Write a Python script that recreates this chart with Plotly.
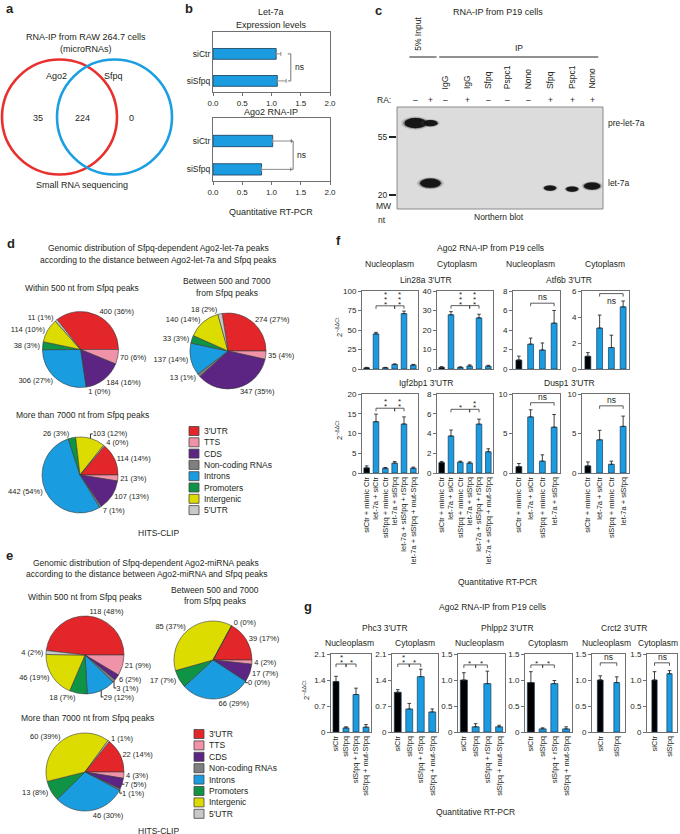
import math
import plotly.graph_objects as go

W, H = 680, 834
FONT = "Liberation Sans, Arial, Helvetica, sans-serif"
TXT = "#231f20"
BLUE = "#1b9ce0"
EDGE = "#173a57"
AXC = "#707070"

def px(x): return x / W
def py(y): return 1 - y / H

# ---------------- DATA ----------------
# a  Venn (RNA-IP, small RNA seq)
venn_sets = ["Ago2", "Sfpq"]
venn_counts = [35, 224, 0]          # Ago2 only, shared, Sfpq only

# b  Let-7a
b_groups = ["siCtr", "siSfpq"]
b_expr = [1.08, 1.10]
b_expr_err = [0.08, 0.15]
b_ip = [1.02, 0.83]
b_ip_err = [0.32, 0.50]
b_ticks = [0, 0.5, 1.0, 1.5, 2.0]

# c  Northern blot
blot_lanes = ["", "", "IgG", "IgG", "Sfpq", "Pspc1", "Nono", "Sfpq", "Pspc1", "Nono"]
blot_ra = ["–", "+", "–", "+", "–", "–", "–", "+", "+", "+"]
lane_x = [0.9, 1.62, 2.35, 3.4, 4.42, 5.35, 6.4, 7.43, 8.5, 9.47]
band_lane = [0, 1, 1, 7, 8, 9]
band_nt = [70, 70, 24.6, 22.6, 22.2, 23.4]
band_signal = [1.0, 0.45, 0.9, 0.3, 0.3, 0.6]
mw_ticks = [20, 55]

# d / e  genomic distribution
regions = ["3′UTR", "TTS", "CDS", "Non-coding RNAs", "Introns", "Promoters", "Intergenic", "5′UTR"]
region_colors = ["#e3262a", "#f093a8", "#5c2483", "#7f7f7f", "#1a9de0", "#0f9446", "#dcdc00", "#c8c8c8"]
d_within = [400, 70, 184, 1, 306, 38, 114, 11]
d_within_pct = [36, 6, 16, 0, 27, 3, 10, 1]
d_between = [274, 35, 347, 13, 137, 33, 140, 18]
d_between_pct = [27, 4, 35, 1, 14, 3, 14, 2]
d_beyond = [114, 21, 107, 7, 442, 26, 103, 4]
d_beyond_pct = [14, 3, 13, 1, 54, 3, 12, 0]
e_within = [118, 21, 6, 3, 29, 18, 46, 4]
e_within_pct = [48, 9, 2, 1, 12, 7, 19, 2]
e_between = [39, 4, 17, 0, 66, 17, 85, 0]
e_between_pct = [17, 2, 7, 0, 29, 7, 37, 0]
e_beyond = [22, 4, 7, 1, 46, 13, 60, 1]
e_beyond_pct = [14, 3, 5, 1, 30, 8, 39, 1]

# f  Ago2 RNA-IP, let-7a targets
f_groups6 = ["siCtr + mimic Ctr", "let-7a + siCtr", "siSfpq + mimic Ctr", "let-7a + siSfpq",
             "let-7a + siSfpq + rSfpq", "let-7a + siSfpq + mut-Sfpq"]
f_groups4 = f_groups6[:4]
f_lin28a_nuc = [1.5, 45.0, 1.6, 5.8, 71.0, 5.0]
f_lin28a_nuc_err = [0.6, 2.0, 0.5, 0.7, 3.2, 0.9]
f_lin28a_nuc_ticks = [0, 25, 50, 75, 100]
f_lin28a_nuc_sig = [(1, 3, 81, 3), (3, 4, 81, 3)]
f_lin28a_cyt = [0.8, 27.8, 0.8, 1.5, 26.2, 1.4]
f_lin28a_cyt_err = [0.4, 1.6, 0.3, 0.6, 1.9, 0.5]
f_lin28a_cyt_ticks = [0, 10, 20, 30, 40]
f_lin28a_cyt_sig = [(1, 3, 32.5, 3), (3, 4, 32.5, 3)]
f_atf6b_nuc = [0.92, 2.55, 1.95, 4.7]
f_atf6b_nuc_err = [0.4, 0.62, 0.72, 1.3]
f_atf6b_nuc_ticks = [0, 2, 4, 6, 8]
f_atf6b_nuc_sig = [(1, 3, 6.75, "ns")]
f_atf6b_cyt = [0.98, 3.15, 1.65, 4.78]
f_atf6b_cyt_err = [0.28, 1.0, 0.95, 0.45]
f_atf6b_cyt_ticks = [0, 2, 4, 6]
f_atf6b_cyt_sig = [(1, 3, 5.8, "ns")]
f_igf_nuc = [1.3, 13.0, 1.2, 2.5, 12.4, 1.2]
f_igf_nuc_err = [0.5, 1.9, 0.2, 0.4, 1.8, 0.3]
f_igf_nuc_ticks = [0, 5, 10, 15, 20]
f_igf_nuc_sig = [(1, 3, 16.4, 2), (3, 4, 16.4, 2)]
f_igf_cyt = [1.05, 3.75, 1.1, 1.0, 4.95, 2.15]
f_igf_cyt_err = [0.12, 0.6, 0.1, 0.12, 0.5, 0.3]
f_igf_cyt_ticks = [0, 2, 4, 6, 8]
f_igf_cyt_sig = [(1, 3, 6.45, 1), (3, 4, 6.45, 2)]
f_dusp_nuc = [0.8, 7.1, 1.5, 5.8]
f_dusp_nuc_err = [0.4, 0.9, 0.8, 1.6]
f_dusp_nuc_ticks = [0, 5, 10]
f_dusp_nuc_sig = [(1, 3, 8.9, "ns")]
f_dusp_cyt = [0.9, 4.2, 1.1, 5.9]
f_dusp_cyt_err = [0.5, 1.2, 0.4, 1.3]
f_dusp_cyt_ticks = [0, 5, 10]
f_dusp_cyt_sig = [(1, 3, 8.5, "ns")]

# g  Ago2 RNA-IP, Sfpq-dependent targets
g_groups4 = ["siCtr", "siSfpq", "siSfpq + rSfpq", "siSfpq + mut-Sfpq"]
g_groups2 = ["siCtr", "siSfpq"]
g_phc3_nuc = [1.36, 0.11, 1.01, 0.13]
g_phc3_nuc_err = [0.14, 0.03, 0.17, 0.07]
g_phc3_cyt = [1.07, 0.62, 1.49, 0.54]
g_phc3_cyt_err = [0.07, 0.15, 0.2, 0.08]
g_phc3_ticks = [0, 0.7, 1.4, 2.1]
g_phc3_sig = [(0, 1, 1.83, 2), (1, 2, 1.83, 1)]
g_phlpp2_nuc = [1.0, 0.1, 0.93, 0.1]
g_phlpp2_nuc_err = [0.14, 0.06, 0.24, 0.03]
g_phlpp2_cyt = [0.95, 0.06, 0.93, 0.06]
g_phlpp2_cyt_err = [0.21, 0.02, 0.06, 0.04]
g_phlpp2_ticks = [0, 0.5, 1.0, 1.5]
g_phlpp2_sig = [(0, 1, 1.29, 1), (1, 2, 1.29, 1)]
g_crct2_nuc = [1.0, 0.95]
g_crct2_nuc_err = [0.08, 0.11]
g_crct2_cyt = [1.0, 1.12]
g_crct2_cyt_err = [0.16, 0.06]
g_crct2_ticks = [0, 0.5, 1.0, 1.5]
g_crct2_sig = [(0, 1, 1.33, "ns")]

# ---------------- BUILD ----------------
traces, ann, shapes = [], [], []
layout = dict(width=W, height=H, autosize=False,
              margin=dict(l=0, r=0, t=0, b=0, pad=0, autoexpand=False),
              paper_bgcolor="white", plot_bgcolor="white", showlegend=False,
              font=dict(family=FONT, size=8, color=TXT))

BASE = dict(showline=True, linecolor=AXC, linewidth=1, mirror=True, ticks="outside",
            ticklen=3, tickcolor=AXC, tickwidth=1, showgrid=False, zeroline=False,
            automargin=False, tickfont=dict(size=8, family=FONT, color=TXT), fixedrange=True)


def add_axes(i, xd, yd, xkw, ykw):
    s = "" if i == 1 else str(i)
    layout["xaxis" + s] = dict(BASE, domain=[px(xd[0]), px(xd[1])], anchor="y" + s, **xkw)
    layout["yaxis" + s] = dict(BASE, domain=[py(yd[1]), py(yd[0])], anchor="x" + s, **ykw)
    return "x" + s, "y" + s


def note(**kw):
    d = dict(showarrow=False, xanchor="center", yanchor="middle",
             font=dict(size=8.5, family=FONT, color=TXT))
    d.update(kw)
    ann.append(d)


def ptext(x, y, s, size=8.5, **kw):
    note(x=px(x), y=py(y), xref="paper", yref="paper", text=s,
         font=dict(size=size, family=FONT, color=TXT), **kw)


def fmt(v):
    if v == 0:
        return "0"
    return str(int(v)) if float(v).is_integer() and v >= 2 else f"{v:.1f}"


# panel letters
for L, x, y in [("a", 4, 8), ("b", 183, 8), ("c", 373, 10), ("d", 5, 244),
                ("e", 4, 555), ("f", 334, 241), ("g", 302, 606)]:
    ptext(x, y, f"<b>{L}</b>", size=13, xanchor="left")

# ---- a : Venn
ptext(86, 37, "RNA-IP from RAW 264.7 cells", 9)
ptext(86, 49, "(microRNAs)", 9)
R = 57.5
for cx, col in [(59.5, "#e8302e"), (114.5, "#1aa0e2")]:
    shapes.append(dict(type="circle", xref="paper", yref="paper", x0=px(cx - R), x1=px(cx + R),
                       y0=py(117 + R), y1=py(117 - R), line=dict(color=col, width=2.6)))
ptext(57, 76, venn_sets[0], 9)
ptext(113, 76, venn_sets[1], 9)
for x, c in zip([38, 82, 131], venn_counts):
    ptext(x, 118, str(c), 9)
ptext(82, 185, "Small RNA sequencing", 9)

# ---- b
for i, (vals, errs, yd, brx) in enumerate([(b_expr, b_expr_err, (32, 92), 1.33),
                                            (b_ip, b_ip_err, (118, 181), 1.37)]):
    xr, yr = add_axes(1 + i, (213, 330), yd,
                      dict(range=[0, 2], tickvals=b_ticks, ticktext=[f"{t:.1f}" for t in b_ticks]),
                      dict(range=[1.41, -0.81], tickvals=[0, 1], ticktext=b_groups, ticks="",
                           tickfont=dict(size=8.5, family=FONT, color=TXT)))
    traces.append(go.Bar(x=vals, y=[0, 1], orientation="h", width=0.4, xaxis=xr, yaxis=yr,
                         marker=dict(color=BLUE, line=dict(color=EDGE, width=0.8)),
                         error_x=dict(type="data", array=errs, arrayminus=[0] * len(errs),
                                      symmetric=False, color="#8c8c8c", thickness=1, width=2)))
    d = 3 * 2 / 117
    traces.append(go.Scatter(x=[brx - d, brx, brx, brx - d], y=[0, 0, 1, 1], mode="lines",
                             line=dict(color="#555", width=0.8), xaxis=xr, yaxis=yr, hoverinfo="skip"))
    note(x=brx, y=0.5, xref=xr, yref=yr, text="ns", xanchor="left", xshift=2)
ptext(271, 12, "Let-7a", 9)
ptext(271, 25, "Expression levels", 9)
ptext(271, 112, "Ago2 RNA-IP", 9)
ptext(271, 212, "Quantitative RT-PCR", 9)

# ---- c : Northern blot
xr, yr = add_axes(3, (397, 603), (107, 209),
                  dict(range=[0, 10], visible=False, showline=False),
                  dict(type="log", range=[math.log10(15.7), math.log10(92.7)], tickvals=mw_ticks,
                       ticktext=[str(t) for t in mw_ticks], showline=False, mirror=False,
                       ticklen=7, tickcolor="#222", tickwidth=1.2,
                       tickfont=dict(size=8.5, family=FONT, color=TXT)))
shapes.append(dict(type="rect", xref="x3 domain", yref="y3 domain", x0=0, x1=1, y0=0, y1=1,
                   fillcolor="#dcdcdc", line=dict(color="#8a8a8a", width=1), layer="below"))
for ln, nt, s in zip(band_lane, band_nt, band_signal):
    wpx, hpx = 8 + 14 * s, 3 + 7 * s
    for scale, op, col in [(1.3, 0.22, "#555"), (1.12, 0.45, "#333"), (1.0, 0.95, "#111")]:
        w = wpx * scale / 20.6
        hd = hpx * scale / 132.0
        shapes.append(dict(type="circle", xref="x3", yref="y3", x0=lane_x[ln] - w / 2,
                           x1=lane_x[ln] + w / 2, y0=nt * 10 ** (-hd / 2), y1=nt * 10 ** (hd / 2),
                           fillcolor=col, opacity=op, line=dict(width=0)))
ptext(498, 12, "RNA-IP from P19 cells", 9)
for xv, lab in zip(lane_x, blot_lanes):
    if lab:
        note(x=xv, y=py(91), xref="x3", yref="paper", text=lab, textangle=-90, yanchor="bottom")
for xv, s in zip(lane_x, blot_ra):
    note(x=xv, y=py(100), xref="x3", yref="paper", text=s)
note(x=(lane_x[0] + lane_x[1]) / 2 - 0.25, y=py(53), xref="x3", yref="paper", text="5% Input",
     textangle=-90, yanchor="bottom")
note(x=(lane_x[2] + lane_x[9]) / 2, y=py(48), xref="x3", yref="paper", text="IP")
for a, b in [(0, 1), (2, 9)]:
    shapes.append(dict(type="line", xref="x3", yref="paper", x0=lane_x[a] - 0.3, x1=lane_x[b] + 0.3,
                       y0=py(57), y1=py(57), line=dict(color="#222", width=1)))
ptext(384, 100, "RA:", 8.5)
ptext(383, 206, "MW", 8.5)
ptext(382, 220, "nt", 8.5)
note(x=px(606), y=math.log10(band_nt[0]), xref="paper", yref="y3", text="pre-let-7a", xanchor="left")
note(x=px(606), y=math.log10(band_nt[2]), xref="paper", yref="y3", text="let-7a", xanchor="left")
ptext(499, 217, "Northern blot", 8.5)


# ---- d / e pies
def add_pie(vals, pcts, cx, cy, r):
    rot = 90 - 360 * vals[0] / sum(vals)
    traces.append(go.Pie(values=vals, labels=regions,
                         text=[f"{v} ({p}%)" for v, p in zip(vals, pcts)], textinfo="text",
                         textposition="outside", sort=False, direction="clockwise", rotation=rot,
                         marker=dict(colors=region_colors, line=dict(color="#3a3a3a", width=0.6)),
                         domain=dict(x=[px(cx - r), px(cx + r)], y=[py(cy + r), py(cy - r)]),
                         textfont=dict(size=7.5, family=FONT, color=TXT), showlegend=False,
                         automargin=False, hoverinfo="skip"))


def add_legend(x0, y0, step):
    for k, (lab, col) in enumerate(zip(regions, region_colors)):
        yc = y0 + k * step
        shapes.append(dict(type="rect", xref="paper", yref="paper", x0=px(x0), x1=px(x0 + 10),
                           y0=py(yc + 4.5), y1=py(yc - 4.5), fillcolor=col,
                           line=dict(color="#444", width=0.8)))
        ptext(x0 + 13, yc, lab, 8.5, xanchor="left")


ptext(158, 248, "Genomic distribution of Sfpq-dependent Ago2-let-7a peaks", 8.5)
ptext(158, 260, "according to the distance between Ago2-let-7a and Sfpq peaks", 8.5)
ptext(82, 288, "Within 500 nt from Sfpq peaks", 8.5)
ptext(227, 281, "Between 500 and 7000", 8.5)
ptext(227, 293, "from Sfpq peaks", 8.5)
ptext(82, 415, "More than 7000 nt from Sfpq peaks", 8.5)
add_pie(d_within, d_within_pct, 80.5, 349.5, 38)
add_pie(d_between, d_between_pct, 228, 351, 38)
add_pie(d_beyond, d_beyond_pct, 80, 475, 38)
add_legend(189, 431, 11.3)
ptext(158, 533, "HITS-CLIP", 8.5)

ptext(146, 563, "Genomic distribution of Sfpq-dependent Ago2-miRNA peaks", 8.5)
ptext(146, 574, "according to the distance between Ago2-miRNA and Sfpq peaks", 8.5)
ptext(85, 597, "Within 500 nt from Sfpq peaks", 8.5)
ptext(215, 590, "Between 500 and 7000", 8.5)
ptext(215, 601, "from Sfpq peaks", 8.5)
ptext(87, 718, "More than 7000 nt from Sfpq peaks", 8.5)
add_pie(e_within, e_within_pct, 85, 655, 39)
add_pie(e_between, e_between_pct, 213, 660, 39)
add_pie(e_beyond, e_beyond_pct, 85, 772, 39)
add_legend(194, 734, 11.4)
ptext(158, 831, "HITS-CLIP", 8.5)


# ---- f / g bar charts
def bar_chart(i, vals, errs, groups, ticks, sig, xd, yd, show_x, width):
    ymax = ticks[-1]
    n = len(vals)
    xr, yr = add_axes(i, xd, yd,
                      dict(range=[-0.5, n - 0.5], tickvals=list(range(n)), ticktext=groups, ticks="",
                           showticklabels=show_x, tickangle=-90,
                           tickfont=dict(size=7.5, family=FONT, color=TXT)),
                      dict(range=[0, ymax], tickvals=ticks, ticktext=[fmt(t) for t in ticks]))
    colors = ["#000000"] + [BLUE] * (n - 1)
    traces.append(go.Bar(x=list(range(n)), y=vals, width=width, xaxis=xr, yaxis=yr,
                         marker=dict(color=colors, line=dict(color=EDGE, width=0.7)),
                         error_y=dict(type="data", array=errs, arrayminus=[0] * n, symmetric=False,
                                      color="#2a2a2a", thickness=0.9, width=1.8)))
    hpx = yd[1] - yd[0]
    d = 3 * ymax / hpx
    for a, b, h, lab in sig:
        traces.append(go.Scatter(x=[a, a, b, b], y=[h - d, h, h, h - d], mode="lines",
                                 line=dict(color="#333", width=0.8), xaxis=xr, yaxis=yr,
                                 hoverinfo="skip"))
        xm = (a + b) / 2
        if isinstance(lab, int):
            for k in range(lab):
                note(x=xm, y=h, xref=xr, yref=yr, text="*", yshift=1.5 + 4.8 * k,
                     font=dict(size=8, family=FONT, color=TXT))
        else:
            room = (ymax - h) / ymax * hpx
            if room > 8:
                note(x=xm, y=h, xref=xr, yref=yr, text=lab, yanchor="bottom", yshift=-1)
            else:
                note(x=xm, y=h, xref=xr, yref=yr, text=lab, yanchor="top")


fx = [(362, 418), (437, 493), (513, 560), (582, 629)]
f_rows = [
    [(f_lin28a_nuc, f_lin28a_nuc_err, f_groups6, f_lin28a_nuc_ticks, f_lin28a_nuc_sig),
     (f_lin28a_cyt, f_lin28a_cyt_err, f_groups6, f_lin28a_cyt_ticks, f_lin28a_cyt_sig),
     (f_atf6b_nuc, f_atf6b_nuc_err, f_groups4, f_atf6b_nuc_ticks, f_atf6b_nuc_sig),
     (f_atf6b_cyt, f_atf6b_cyt_err, f_groups4, f_atf6b_cyt_ticks, f_atf6b_cyt_sig)],
    [(f_igf_nuc, f_igf_nuc_err, f_groups6, f_igf_nuc_ticks, f_igf_nuc_sig),
     (f_igf_cyt, f_igf_cyt_err, f_groups6, f_igf_cyt_ticks, f_igf_cyt_sig),
     (f_dusp_nuc, f_dusp_nuc_err, f_groups4, f_dusp_nuc_ticks, f_dusp_nuc_sig),
     (f_dusp_cyt, f_dusp_cyt_err, f_groups4, f_dusp_cyt_ticks, f_dusp_cyt_sig)],
]
idx = 4
for r, (row, yd) in enumerate(zip(f_rows, [(291, 369), (394, 473)])):
    for c, (vals, errs, grp, ticks, sig) in enumerate(row):
        bar_chart(idx, vals, errs, grp, ticks, sig, fx[c], yd, r == 1, 0.6 if len(vals) == 6 else 0.5)
        idx += 1

ptext(490, 248, "Ago2 RNA-IP from P19 cells", 8.5)
for x, s in zip([389, 457, 530, 605], ["Nucleoplasm", "Cytoplasm", "Nucleoplasm", "Cytoplasm"]):
    ptext(x, 264, s, 8.5)
ptext(426, 280, "Lin28a 3′UTR", 8.5)
ptext(569, 280, "Atf6b 3′UTR", 8.5)
ptext(426, 383, "Igf2bp1 3′UTR", 8.5)
ptext(569, 383, "Dusp1 3′UTR", 8.5)
ytitle = "2<sup>−ΔΔCt</sup>"
ptext(339, 327, ytitle, 7.5, textangle=-90)
ptext(339, 430, ytitle, 7.5, textangle=-90)
ptext(498, 582, "Quantitative RT-PCR", 8.5)

g_specs = [
    (g_phc3_nuc, g_phc3_nuc_err, g_groups4, g_phc3_ticks, g_phc3_sig, (331, 371)),
    (g_phc3_cyt, g_phc3_cyt_err, g_groups4, g_phc3_ticks, g_phc3_sig, (392, 438)),
    (g_phlpp2_nuc, g_phlpp2_nuc_err, g_groups4, g_phlpp2_ticks, g_phlpp2_sig, (458, 505)),
    (g_phlpp2_cyt, g_phlpp2_cyt_err, g_groups4, g_phlpp2_ticks, g_phlpp2_sig, (525, 572)),
    (g_crct2_nuc, g_crct2_nuc_err, g_groups2, g_crct2_ticks, g_crct2_sig, (592, 625)),
    (g_crct2_cyt, g_crct2_cyt_err, g_groups2, g_crct2_ticks, g_crct2_sig, (647, 677)),
]
for vals, errs, grp, ticks, sig, xd in g_specs:
    bar_chart(idx, vals, errs, grp, ticks, sig, xd, (654, 732), True, 0.6 if len(vals) == 4 else 0.35)
    idx += 1

ptext(492, 607, "Ago2 RNA-IP from P19 cells", 8.5)
for x, s in zip([385, 507, 624], ["Phc3 3′UTR", "Phlpp2 3′UTR", "Crct2 3′UTR"]):
    ptext(x, 628, s, 8.5)
for x, s in zip([350, 415, 479, 548, 606, 658],
                ["Nucleoplasm", "Cytoplasm", "Nucleoplasm", "Cytoplasm", "Nucleoplasm", "Cytoplasm"]):
    ptext(x, 643, s, 8.5)
ptext(306, 690, ytitle, 7.5, textangle=-90)
ptext(475, 812, "Quantitative RT-PCR", 8.5)

layout["annotations"] = ann
layout["shapes"] = shapes
fig = go.Figure(data=traces, layout=layout)
fig.write_html("out.html", config={"displayModeBar": False, "staticPlot": True},
               post_script="document.body.style.margin='0px';document.body.style.padding='0px';"
                           "document.body.style.overflow='hidden';")
